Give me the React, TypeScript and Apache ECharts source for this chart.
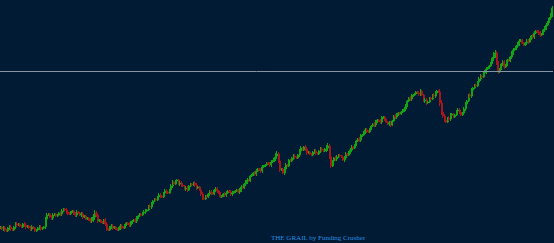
import React, { useEffect, useRef } from "react";
import * as echarts from "echarts";

const closes: number[] = [
  14, 13, 15, 14, 16, 18, 17, 19, 16, 15, 16, 12, 15, 14, 16, 28, 26, 28, 27, 30,
  32, 33, 30, 31, 29, 31, 28, 26, 24, 23, 24, 30, 22, 21, 23, 14, 16, 15, 14, 15,
  16, 18, 19, 20, 23, 25, 29, 30, 32, 37, 39, 44, 46, 47, 50, 51, 53, 61, 62, 59,
  58, 54, 53, 59, 60, 55, 53, 45, 47, 49, 50, 53, 52, 46, 49, 50, 51, 50, 52, 51,
  56, 59, 63, 67, 70, 72, 73, 76, 78, 79, 81, 85, 89, 73, 70, 78, 83, 85, 86, 88,
  95, 96, 90, 89, 91, 90, 92, 93, 94, 97, 77, 85, 86, 87, 83, 89, 91, 96, 98, 104,
  107, 111, 112, 114, 119, 121, 122, 125, 123, 119, 118, 127, 128, 129, 133, 137, 145, 147, 149, 150,
  152, 142, 140, 145, 148, 150, 151, 131, 123, 125, 128, 126, 132, 131, 130, 139, 148, 153, 158, 161,
  167, 170, 174, 177, 185, 190, 171, 179, 176, 183, 186, 193, 197, 202, 200, 200, 201, 207, 210, 211,
  208, 213, 218, 225, 235,
];
const mids: number[] = [
  16, 15, 12, 16, 13, 19, 19, 16, 18, 17, 14, 15, 13, 16, 15, 24, 29, 25, 29, 28,
  29, 34, 31, 29, 32, 28, 30, 29, 27, 25, 22, 26, 28, 23, 20, 19, 13, 17, 16, 13,
  17, 15, 20, 18, 22, 22, 27, 28, 31, 33, 36, 42, 43, 48, 46, 52, 50, 57, 59, 63,
  60, 57, 55, 57, 58, 58, 56, 49, 44, 46, 51, 49, 54, 50, 47, 48, 52, 49, 51, 53,
  53, 55, 61, 62, 68, 69, 74, 72, 77, 80, 78, 82, 87, 82, 74, 74, 77, 82, 87, 85,
  92, 93, 94, 91, 88, 92, 89, 94, 92, 95, 86, 82, 84, 88, 86, 85, 88, 93, 95, 102,
  103, 108, 113, 111, 117, 118, 123, 121, 126, 121, 120, 122, 126, 130, 131, 134, 142, 144, 148, 151,
  149, 148, 143, 141, 144, 147, 152, 140, 127, 121, 124, 129, 128, 133, 128, 134, 142, 147, 155, 157,
  164, 166, 171, 175, 180, 188, 180, 174, 181, 178, 182, 190, 194, 199, 203, 198, 202, 204, 206, 212,
  210, 209, 215, 221, 228,
];
const wicks: number[] = [
  1, 2, 1, 2, 1, 2, 1, 1, 2, 1, 2, 1, 1, 2, 1, 2, 1, 2, 1, 1,
  2, 1, 2, 1, 1, 2, 1, 2, 1, 1, 2, 3, 2, 1, 1, 2, 1, 2, 1, 1,
  2, 1, 1, 2, 1, 2, 1, 1, 2, 1, 2, 1, 1, 2, 1, 2, 1, 2, 1, 1,
  2, 1, 2, 1, 1, 2, 1, 2, 1, 1, 2, 1, 2, 1, 1, 2, 1, 2, 1, 1,
  2, 1, 2, 1, 1, 2, 1, 2, 1, 1, 2, 1, 3, 2, 1, 2, 1, 1, 2, 1,
  2, 1, 2, 1, 1, 2, 1, 2, 1, 3, 2, 1, 2, 1, 1, 2, 1, 2, 1, 1,
  2, 1, 2, 1, 1, 2, 1, 2, 1, 1, 2, 1, 2, 1, 1, 2, 1, 2, 1, 1,
  2, 1, 2, 1, 1, 2, 1, 3, 2, 1, 2, 1, 1, 2, 1, 2, 1, 2, 1, 1,
  2, 1, 2, 1, 1, 3, 2, 1, 2, 1, 1, 2, 1, 2, 1, 1, 2, 1, 2, 1,
  2, 1, 2, 1, 2,
];
const firstOpen = 15;
const levelLine = 172;
const footerText = "THE GRAIL by Funding Crusher";

export default function App() {
  const ref = useRef<HTMLDivElement>(null);
  useEffect(() => {
    if (!ref.current) return;
    const chart = echarts.init(ref.current, undefined, { renderer: "svg" });
    const candles: number[][] = [];
    closes.forEach((c, i) => {
      const o = i === 0 ? firstOpen : closes[i - 1];
      const m = mids[i] ?? c;
      const w = wicks[i] ?? 1;
      candles.push([o, m, Math.min(o, m) - w, Math.max(o, m) + w]);
      candles.push([m, c, Math.min(m, c) - w, Math.max(m, c) + w]);
    });
    const categories = candles.map((_, i) => String(i + 1));
    chart.setOption({
      animation: false,
      backgroundColor: "#001b33",
      grid: { left: 0, right: 1, top: 0, bottom: 0 },
      xAxis: {
        type: "category",
        data: categories,
        show: false,
        boundaryGap: true,
      },
      yAxis: {
        type: "value",
        min: 0,
        max: 243,
        show: false,
        splitLine: { show: false },
      },
      series: [
        {
          type: "candlestick",
          data: candles,
          barWidth: 1.5,
          itemStyle: {
            color: "#14a314",
            color0: "#a8161c",
            borderColor: "#14a314",
            borderColor0: "#a8161c",
            borderWidth: 1,
          },
          markLine: {
            silent: true,
            symbol: "none",
            label: { show: false },
            emphasis: { disabled: true },
            lineStyle: { color: "#8595a5", width: 1, type: "solid" },
            data: [{ yAxis: levelLine }],
          },
        },
      ],
      graphic: [
        {
          type: "text",
          left: 271,
          top: 234,
          style: {
            text: footerText,
            fill: "#2a8ee0",
            font: "7px 'Liberation Serif'",
          },
        },
      ],
    });
    return () => chart.dispose();
  }, []);
  return (
    <div
      ref={ref}
      style={{ position: "fixed", left: 0, top: 0, width: 554, height: 243 }}
    />
  );
}
